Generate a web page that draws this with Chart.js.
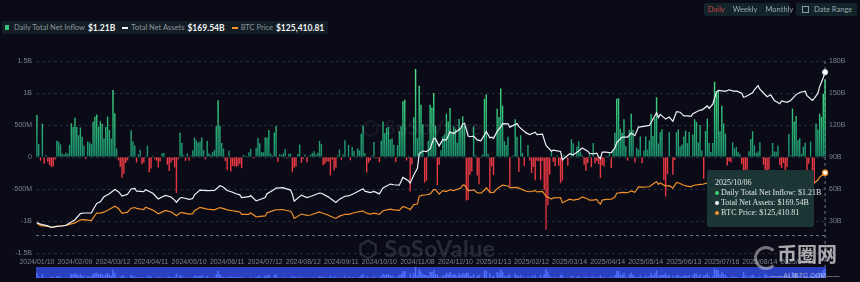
<!DOCTYPE html>
<html><head><meta charset="utf-8">
<script src="https://cdn.jsdelivr.net/npm/chart.js@4.4.1/dist/chart.umd.min.js"></script>
<style>
html,body{margin:0;padding:0;background:#0a0b17;width:860px;height:282px;overflow:hidden;font-family:Lato,"Open Sans",sans-serif;}
#wrap{position:relative;width:860px;height:282px;background:#0a0b17;}
#main{position:absolute;left:0;top:0;}
#nav{position:absolute;left:36px;top:267px;background:#2a40bf;}
.legend{position:absolute;left:2px;top:21px;height:13px;background:#141d24;display:flex;align-items:center;font-size:7.5px;color:#8a949e;padding:0 4px 0 3px;white-space:nowrap;}
.legend b{color:#f1f4f6;font-size:8.5px;font-weight:700;margin-left:3px;margin-right:7px;}
.sq{display:inline-block;width:4px;height:5px;background:#35c27a;margin-right:5px;}
.ln{display:inline-block;width:6px;height:2px;margin-right:3px;}
.btns{position:absolute;left:704px;top:3px;width:86px;height:13px;background:#13232a;border-radius:2px;font-size:7.5px;color:#9aa6ae;display:flex;align-items:center;}
.btns span{margin-left:4px;margin-right:4px;}
.dr{position:absolute;left:796px;top:3px;width:61px;height:13px;background:#13232a;border-radius:2px;font-size:7.5px;color:#9aa6ae;display:flex;align-items:center;}
.cal{display:inline-block;width:5px;height:5px;border:1px solid #8d99a2;margin:0 5px 0 6px;}
.tip{position:absolute;left:707px;top:170px;width:107px;height:57px;background:#1b3634;border-radius:2px;font-family:"Liberation Serif","DejaVu Serif",serif;font-size:8px;color:#dfe6e6;line-height:10px;padding-top:8px;box-sizing:border-box;}
.tip div{padding-left:8px;white-space:nowrap;}
.dot{display:inline-block;width:4px;height:4px;border-radius:50%;margin-right:2px;vertical-align:0px;}
.wm1{position:absolute;left:362px;top:115px;font-size:20px;font-weight:700;color:rgba(255,255,255,0.06);letter-spacing:0.5px;}
.wm2{position:absolute;left:358px;top:234px;font-size:23px;font-weight:700;color:rgba(150,160,170,0.22);letter-spacing:0.5px;}
.ali{position:absolute;left:777px;top:243px;font-family:"Noto Sans CJK SC",sans-serif;font-size:20px;font-weight:700;color:rgba(210,210,210,0.8);line-height:22px;}
.ali2{position:absolute;left:770px;top:272px;font-family:"Liberation Sans",sans-serif;font-size:6.5px;color:rgba(205,205,205,0.8);letter-spacing:0.3px;}
.ring{position:absolute;left:754px;top:246px;width:18px;height:18px;border-radius:50%;border:3px solid rgba(200,200,200,0.55);border-right-color:transparent;}
</style></head>
<body><div id="wrap">
<canvas id="main" width="860" height="267"></canvas>
<canvas id="nav" width="790" height="11"></canvas>
<div class="wm1">⬡ SoSoValue</div>
<div class="wm2">⬡ SoSoValue</div>
<div class="legend"><span class="sq"></span>Daily Total Net Inflow<b>$1.21B</b><span class="ln" style="background:#f2f4f6"></span>Total Net Assets<b>$169.54B</b><span class="ln" style="background:#f0902a"></span>BTC Price<b style="margin-right:0">$125,410.81</b></div>
<div class="btns"><span style="color:#d8423f">Daily</span><span>Weekly</span><span>Monthly</span></div>
<div class="dr"><span class="cal"></span>Date Range</div>
<div class="tip">
<div>2025/10/06</div>
<div><span class="dot" style="background:#3ecf6c"></span>Daily Total Net Inflow: $1.21B</div>
<div><span class="dot" style="background:#f4f6f8"></span>Total Net Assets: $169.54B</div>
<div><span class="dot" style="background:#f0902a"></span>BTC Price: $125,410.81</div>
</div>
<div class="ring"></div>
<div class="ali">币圈网</div>
<div class="ali2">——ALIBTC.COM——</div>
</div>
<script>
// ---------- categories (US trading days) ----------
const holidays = ['2024/01/15','2024/02/19','2024/03/29','2024/05/27','2024/06/19','2024/07/04','2024/09/02','2024/11/28','2024/12/25',
  '2025/01/01','2025/01/09','2025/01/20','2025/02/17','2025/04/18','2025/05/26','2025/06/19','2025/07/04','2025/09/01'];
const firstDay = '2024/01/10', lastDay = '2025/10/06';
const tickLabels = ['2024/01/10','2024/02/09','2024/03/12','2024/04/11','2024/05/10','2024/06/11','2024/07/12','2024/08/12','2024/09/11',
  '2024/10/10','2024/11/08','2024/12/10','2025/01/13','2025/02/12','2025/03/14','2025/04/14','2025/05/14','2025/06/13','2025/07/16','2025/08/14','2025/09/15'];

// ---------- daily total net inflow ($M), by month ----------
const inflow2024Jan = [655,203,-58,520,-106,30,-76,-125,-158,-148,-40,255,240,197,55];
const inflow2024Feb = [40,70,50,190,525,470,614,470,340,460,317,177,-30,240,230,200,550,630,665,470];
const inflow2024Mar = [560,520,290,470,630,420,290,1045,684,133,-51,-154,-326,-261,-94,-53,15,418,243,179];
const inflow2024Apr = [-86,40,113,-113,-84,12,175,-240,-180,20,-37,-58,-165,-70,60,62,10,-120,-218,-84,-50,-162];
const inflow2024May = [-563,-35,378,217,30,-60,55,-60,20,100,303,257,222,241,305,107,-36,253,60,30,80,110];
const inflow2024Jun = [479,887,488,217,131,-65,-200,100,-226,-140,-145,-152,-140,-105,-174,31,21,11,73];
const inflow2024Jul = [129,-13,-20,143,295,216,78,73,310,301,422,53,19,384,486,-78,44,31,60,124,-18,50];
const inflow2024Aug = [50,-237,-168,-148,45,195,-90,-30,38,-81,12,33,62,88,39,65,252,202,-127,-105,-72,-71];
const inflow2024Sep = [-287,-38,-211,-169,28,117,-43,39,263,12,187,-52,158,92,4,136,105,365,494,61];
const inflow2024Oct = [-242,-92,-55,25,235,-18,-15,-81,253,555,371,458,470,273,294,192,-79,188,402,479,870,893,-54];
const inflow2024Nov = [20,-541,-116,621,1376,294,1114,818,510,-400,-371,255,817,773,1000,490,-438,-122,104,320];
const inflow2024Dec = [353,676,556,766,376,479,439,223,598,428,637,493,-680,-672,-277,-226,475,30,-288,-426,5];
const inflow2025Jan = [40,908,978,52,-568,-149,-284,13,753,626,1072,802,248,188,318,-458,4,25,588,318];
const inflow2025Feb = [-235,340,66,-140,10,186,-56,-251,-156,-364,-60,-64,-365,-62,-516,-1138,-754,-276,94];
const inflow2025Mar = [-74,-143,22,-134,-409,-371,30,13,-135,11,275,209,11,165,244,84,27,-120,-220,-93,60];
const inflow2025Apr = [-158,220,-100,-64,-110,-326,-127,-150,1,15,76,-170,107,381,912,917,442,380,591,173,-56];
const inflow2025May = [422,675,425,-86,142,117,321,-97,100,319,115,260,667,329,607,934,211,385,433,-358,-616];
const inflow2025Jun = [-268,387,10,-278,-47,386,431,164,196,322,412,216,389,6,350,588,548,226,501,102];
const inflow2025Jul = [-342,407,601,217,80,218,1175,1029,1030,403,799,522,363,-131,-68,-86,227,131,157,80,47,-114];
const inflow2025Aug = [-812,-323,-196,91,281,404,178,66,86,231,-14,-122,-523,-311,-194,23,219,88,81,179,-126];
const inflow2025Sep = [-170,-90,-300,-160,360,23,757,553,642,260,293,51,163,223,-363,-104,241,-258,-418,522,430];
const inflow2025Oct = [676,627,985,1210];

// ---------- BTC price ($) ----------
const btcPrice = [
['2024/01/10',46600],['2024/01/12',42800],['2024/01/19',41600],['2024/01/23',39900],['2024/01/26',41800],['2024/01/31',42600],
['2024/02/02',43200],['2024/02/09',47100],['2024/02/14',51800],['2024/02/16',52100],['2024/02/23',50700],['2024/02/28',62500],
['2024/03/01',62400],['2024/03/05',63800],['2024/03/08',68300],['2024/03/13',73100],['2024/03/15',69500],['2024/03/19',62000],
['2024/03/22',63800],['2024/03/26',70000],['2024/03/28',71000],['2024/04/01',69700],['2024/04/05',68000],['2024/04/08',71600],
['2024/04/12',67000],['2024/04/17',61300],['2024/04/19',63800],['2024/04/23',66400],['2024/04/26',64000],['2024/04/30',60600],
['2024/05/01',58200],['2024/05/03',62900],['2024/05/06',63100],['2024/05/10',60800],['2024/05/14',61600],['2024/05/15',66200],
['2024/05/20',71400],['2024/05/24',68500],['2024/05/31',67500],['2024/06/05',71000],['2024/06/07',69300],['2024/06/11',67300],
['2024/06/14',66000],['2024/06/18',65100],['2024/06/21',64100],['2024/06/24',60300],['2024/06/28',60300],['2024/07/01',62700],
['2024/07/05',56600],['2024/07/08',56700],['2024/07/12',57900],['2024/07/15',62900],['2024/07/19',66700],['2024/07/22',67600],
['2024/07/26',67900],['2024/07/29',66800],['2024/08/01',65300],['2024/08/02',61400],['2024/08/05',54000],['2024/08/09',60900],
['2024/08/14',58700],['2024/08/16',59400],['2024/08/23',64100],['2024/08/26',62800],['2024/08/30',59000],['2024/09/03',57500],
['2024/09/06',54000],['2024/09/10',57600],['2024/09/13',60500],['2024/09/17',60300],['2024/09/20',62900],['2024/09/27',65800],
['2024/09/30',63300],['2024/10/03',60800],['2024/10/07',62200],['2024/10/10',60300],['2024/10/14',66000],['2024/10/18',68400],
['2024/10/22',67400],['2024/10/25',66600],['2024/10/29',72700],['2024/11/01',69500],['2024/11/04',67800],['2024/11/06',75600],
['2024/11/08',76500],['2024/11/11',88700],['2024/11/13',90400],['2024/11/15',91000],['2024/11/19',92300],['2024/11/21',98900],
['2024/11/22',98900],['2024/11/26',91900],['2024/11/29',97500],['2024/12/03',96000],['2024/12/05',98800],['2024/12/09',97400],
['2024/12/13',101400],['2024/12/16',106000],['2024/12/17',106100],['2024/12/19',97500],['2024/12/20',97700],['2024/12/24',98700],
['2024/12/27',94300],['2024/12/31',93400],['2025/01/03',98100],['2025/01/06',102100],['2025/01/08',95000],['2025/01/10',94600],
['2025/01/13',94500],['2025/01/15',100500],['2025/01/17',104400],['2025/01/21',106100],['2025/01/24',104700],['2025/01/27',102000],
['2025/01/31',102400],['2025/02/03',101400],['2025/02/07',96500],['2025/02/11',95700],['2025/02/14',97500],['2025/02/18',95500],
['2025/02/21',96200],['2025/02/25',88700],['2025/02/28',84300],['2025/03/03',86100],['2025/03/07',86700],['2025/03/10',78500],
['2025/03/14',84000],['2025/03/18',82700],['2025/03/21',84100],['2025/03/25',87500],['2025/03/28',84300],['2025/03/31',82500],
['2025/04/02',82500],['2025/04/04',83800],['2025/04/07',79200],['2025/04/08',76300],['2025/04/09',82600],['2025/04/11',83800],
['2025/04/16',84000],['2025/04/21',87500],['2025/04/22',93400],['2025/04/25',94600],['2025/04/30',94200],['2025/05/02',96900],
['2025/05/06',94800],['2025/05/08',103200],['2025/05/12',102800],['2025/05/16',103500],['2025/05/21',109700],['2025/05/22',111700],
['2025/05/23',107300],['2025/05/27',109400],['2025/05/30',104600],['2025/06/03',105400],['2025/06/05',101500],['2025/06/09',110300],
['2025/06/11',108600],['2025/06/13',105900],['2025/06/17',104500],['2025/06/20',103300],['2025/06/23',105500],['2025/06/27',107100],
['2025/06/30',107100],['2025/07/03',109600],['2025/07/07',108200],['2025/07/09',111300],['2025/07/11',117600],['2025/07/14',119800],
['2025/07/16',118700],['2025/07/18',117900],['2025/07/22',119900],['2025/07/25',117600],['2025/07/28',118000],['2025/07/31',115800],
['2025/08/01',113300],['2025/08/04',115000],['2025/08/08',116600],['2025/08/11',118700],['2025/08/13',123300],['2025/08/14',118400],
['2025/08/18',116200],['2025/08/20',114200],['2025/08/22',116900],['2025/08/26',111800],['2025/08/29',108400],['2025/09/02',111200],
['2025/09/05',110700],['2025/09/09',111500],['2025/09/12',115900],['2025/09/16',116800],['2025/09/19',115700],['2025/09/22',112700],
['2025/09/25',109000],['2025/09/26',109600],['2025/09/30',114000],['2025/10/01',118600],['2025/10/02',120600],['2025/10/03',122300],
['2025/10/06',125410.81]];

// ---------- total net assets ($B) ----------
const totalAssets = [
['2024/01/10',28.5],['2024/01/12',27.0],['2024/01/19',25.5],['2024/01/23',24.0],['2024/01/26',25.0],['2024/01/31',25.3],
['2024/02/02',26.0],['2024/02/09',31.2],['2024/02/14',37.0],['2024/02/16',37.5],['2024/02/23',37.5],['2024/02/28',46.5],
['2024/03/01',48.0],['2024/03/05',52.7],['2024/03/08',55.5],['2024/03/13',59.6],['2024/03/15',57.5],['2024/03/19',53.3],
['2024/03/22',55.0],['2024/03/26',60.0],['2024/03/28',60.5],['2024/04/01',58.0],['2024/04/05',57.5],['2024/04/08',59.4],
['2024/04/12',56.0],['2024/04/17',50.6],['2024/04/19',52.5],['2024/04/23',54.0],['2024/04/26',52.5],['2024/04/30',49.6],
['2024/05/01',47.6],['2024/05/03',51.5],['2024/05/06',52.0],['2024/05/10',50.2],['2024/05/14',51.0],['2024/05/15',54.6],
['2024/05/20',59.0],['2024/05/24',58.5],['2024/05/31',58.7],['2024/06/05',63.0],['2024/06/07',61.7],['2024/06/11',58.6],
['2024/06/14',57.0],['2024/06/18',55.5],['2024/06/21',54.5],['2024/06/24',51.9],['2024/06/28',52.8],['2024/07/01',53.8],
['2024/07/05',48.9],['2024/07/08',49.5],['2024/07/12',52.0],['2024/07/15',55.6],['2024/07/19',59.5],['2024/07/22',60.8],
['2024/07/26',61.2],['2024/07/29',60.6],['2024/08/01',59.0],['2024/08/02',55.0],['2024/08/05',48.6],['2024/08/09',54.3],
['2024/08/14',52.0],['2024/08/16',53.0],['2024/08/23',56.2],['2024/08/26',56.0],['2024/08/30',52.4],['2024/09/03',51.0],
['2024/09/06',47.3],['2024/09/10',50.5],['2024/09/13',53.2],['2024/09/17',53.5],['2024/09/20',55.8],['2024/09/27',60.3],
['2024/09/30',58.0],['2024/10/03',56.7],['2024/10/07',57.8],['2024/10/10',55.4],['2024/10/14',61.0],['2024/10/18',64.6],
['2024/10/22',64.0],['2024/10/25',63.6],['2024/10/29',70.9],['2024/11/01',67.8],['2024/11/04',65.5],['2024/11/06',73.2],
['2024/11/08',79.3],['2024/11/11',93.0],['2024/11/13',95.6],['2024/11/15',95.0],['2024/11/19',97.5],['2024/11/21',107.5],
['2024/11/22',107.0],['2024/11/26',100.4],['2024/11/29',106.2],['2024/12/03',106.0],['2024/12/05',113.7],['2024/12/09',112.0],
['2024/12/13',116.9],['2024/12/16',121.0],['2024/12/17',121.7],['2024/12/19',109.7],['2024/12/20',109.0],['2024/12/24',109.6],
['2024/12/27',106.0],['2024/12/31',105.2],['2025/01/03',110.5],['2025/01/06',113.9],['2025/01/08',108.0],['2025/01/10',108.5],
['2025/01/13',107.5],['2025/01/15',114.0],['2025/01/17',118.2],['2025/01/21',121.2],['2025/01/24',121.1],['2025/01/27',118.0],
['2025/01/31',121.3],['2025/02/03',118.5],['2025/02/07',112.6],['2025/02/11',111.0],['2025/02/14',113.2],['2025/02/18',111.0],
['2025/02/21',111.5],['2025/02/25',100.8],['2025/02/28',95.5],['2025/03/03',96.5],['2025/03/07',95.2],['2025/03/10',87.3],
['2025/03/14',93.1],['2025/03/18',92.0],['2025/03/21',95.6],['2025/03/25',98.5],['2025/03/28',95.5],['2025/03/31',93.5],
['2025/04/02',93.0],['2025/04/04',93.5],['2025/04/07',90.0],['2025/04/08',88.5],['2025/04/09',94.5],['2025/04/11',94.5],
['2025/04/16',94.0],['2025/04/21',98.5],['2025/04/22',103.5],['2025/04/25',108.7],['2025/04/30',108.7],['2025/05/02',112.5],
['2025/05/06',110.0],['2025/05/08',118.0],['2025/05/12',118.5],['2025/05/16',119.6],['2025/05/21',128.5],['2025/05/22',131.6],
['2025/05/23',127.0],['2025/05/27',130.0],['2025/05/30',125.5],['2025/06/03',127.5],['2025/06/05',123.5],['2025/06/09',132.5],
['2025/06/11',132.0],['2025/06/13',128.5],['2025/06/17',128.5],['2025/06/20',128.0],['2025/06/23',130.5],['2025/06/27',134.0],
['2025/06/30',134.0],['2025/07/03',137.9],['2025/07/07',135.5],['2025/07/09',139.5],['2025/07/11',150.6],['2025/07/14',152.4],
['2025/07/16',152.0],['2025/07/18',151.6],['2025/07/22',153.0],['2025/07/25',151.6],['2025/07/28',152.0],['2025/07/31',149.8],
['2025/08/01',146.0],['2025/08/04',146.5],['2025/08/08',150.3],['2025/08/11',153.0],['2025/08/13',157.0],['2025/08/14',153.5],
['2025/08/18',150.0],['2025/08/20',146.5],['2025/08/22',148.3],['2025/08/26',143.0],['2025/08/29',139.9],['2025/09/02',142.5],
['2025/09/05',141.2],['2025/09/09',143.0],['2025/09/12',148.5],['2025/09/16',150.5],['2025/09/19',151.7],['2025/09/22',147.5],
['2025/09/25',143.0],['2025/09/26',145.0],['2025/09/30',149.6],['2025/10/01',156.0],['2025/10/02',160.0],['2025/10/03',164.5],
['2025/10/06',169.54]];

const pointerInflow = -1220; // horizontal crosshair position ($M)

// ---------- build ----------
function fmt(d){return d.getUTCFullYear()+'/'+String(d.getUTCMonth()+1).padStart(2,'0')+'/'+String(d.getUTCDate()).padStart(2,'0');}
function parseD(s){const p=s.split('/');return Date.UTC(+p[0],+p[1]-1,+p[2]);}
const categories=[];
for(let t=parseD(firstDay);t<=parseD(lastDay);t+=86400000){
  const d=new Date(t),wd=d.getUTCDay(); if(wd===0||wd===6)continue;
  const s=fmt(d); if(holidays.includes(s))continue; categories.push(s);
}
const inflow=[].concat(inflow2024Jan,inflow2024Feb,inflow2024Mar,inflow2024Apr,inflow2024May,inflow2024Jun,inflow2024Jul,inflow2024Aug,
  inflow2024Sep,inflow2024Oct,inflow2024Nov,inflow2024Dec,inflow2025Jan,inflow2025Feb,inflow2025Mar,inflow2025Apr,inflow2025May,
  inflow2025Jun,inflow2025Jul,inflow2025Aug,inflow2025Sep,inflow2025Oct);
function snap(s){ if(categories.includes(s))return s; const t=parseD(s); for(const c of categories){ if(parseD(c)>=t) return c;} return categories[categories.length-1]; }
const assetPts=totalAssets.map(([d,v])=>({x:snap(d),y:v}));
const pricePts=btcPrice.map(([d,v])=>({x:snap(d),y:v}));

let gCache=null;
function barColor(c){
  const chart=c.chart,a=chart.chartArea; if(!a)return '#2fbf71';
  if(!gCache){
    const z=chart.scales.y.getPixelForValue(0),cx=chart.ctx;
    const g=cx.createLinearGradient(0,a.top,0,z); g.addColorStop(0,'#5ae894'); g.addColorStop(0.55,'#33c37a'); g.addColorStop(1,'#1b8f6d');
    const r=cx.createLinearGradient(0,z,0,a.bottom); r.addColorStop(0,'#ee3b45'); r.addColorStop(1,'#c42833');
    gCache={g,r};
  }
  return c.raw>=0?gCache.g:gCache.r;
}

const crosshair={id:'crosshair',beforeDatasetsDraw(chart){
  const {ctx,chartArea:a,scales}=chart;
  const px=scales.x.getPixelForValue(categories.length-1);
  const py=scales.y.getPixelForValue(pointerInflow);
  ctx.save(); ctx.strokeStyle='rgba(150,158,172,0.75)'; ctx.lineWidth=1; ctx.setLineDash([3,3]);
  ctx.beginPath(); ctx.moveTo(px,a.top); ctx.lineTo(px,a.bottom+14);
  ctx.moveTo(a.left,py+0.5); ctx.lineTo(a.right,py+0.5); ctx.stroke(); ctx.restore();
}};

const tickColor='#7b8192';
const tickFont={family:'"Liberation Sans", Arial, sans-serif',size:7};
function lastOnly(r){return c=>c.dataIndex===c.dataset.data.length-1?r:0;}

new Chart(document.getElementById('main'),{
  type:'bar',
  data:{labels:categories,datasets:[
    {type:'line',label:'Total Net Assets',data:assetPts,yAxisID:'yA',borderColor:'#eef2f7',borderWidth:1.2,tension:0,
      pointRadius:lastOnly(2.6),pointBackgroundColor:'#ffffff',pointBorderColor:'#cfd6de',pointBorderWidth:1,order:0},
    {type:'line',label:'BTC Price',data:pricePts,yAxisID:'yP',borderColor:'#f0902a',borderWidth:1.2,tension:0,
      pointRadius:lastOnly(2.6),pointBackgroundColor:'#ffffff',pointBorderColor:'#f0902a',pointBorderWidth:1.2,order:0},
    {type:'bar',label:'Daily Total Net Inflow',data:inflow,yAxisID:'y',backgroundColor:barColor,barPercentage:0.78,categoryPercentage:1,order:1}
  ]},
  options:{
    responsive:false,animation:false,devicePixelRatio:1,
    layout:{padding:{top:61,left:0,right:0,bottom:0}},
    plugins:{legend:{display:false},tooltip:{enabled:false}},
    scales:{
      x:{type:'category',offset:true,grid:{display:false,drawTicks:false},border:{display:false},
        ticks:{autoSkip:false,maxRotation:0,minRotation:0,padding:5,color:tickColor,font:tickFont,
          callback(v){const l=this.getLabelForValue(v);return tickLabels.includes(l)?l:'';}},
        afterFit(s){s.height=14;}},
      y:{position:'left',min:-1500,max:1500,
        ticks:{stepSize:500,padding:4,color:tickColor,font:tickFont,
          callback:v=>v===0?'0':(Math.abs(v)>=1000?(v/1000)+'B':v+'M')},
        grid:{color:'#262b3b',lineWidth:1,drawTicks:false},border:{display:false,dash:[3,3]},
        afterFit(s){s.width=36;}},
      yA:{position:'right',min:0,max:180,
        ticks:{stepSize:30,padding:3,color:tickColor,font:tickFont,callback:v=>v===0?'0':v+'B'},
        grid:{display:false,drawTicks:false},border:{display:false},afterFit(s){s.width=34;}},
      yP:{display:false,min:0,max:300000}
    }
  },
  plugins:[crosshair]
});

new Chart(document.getElementById('nav'),{
  type:'bar',
  data:{labels:categories,datasets:[{data:inflow.map(Math.abs),backgroundColor:'#5071ff',barPercentage:0.8,categoryPercentage:1}]},
  options:{responsive:false,animation:false,devicePixelRatio:1,layout:{padding:0},
    plugins:{legend:{display:false},tooltip:{enabled:false}},
    scales:{x:{display:false},y:{display:false,min:0,max:1400}}}
});
</script>
</body></html>
